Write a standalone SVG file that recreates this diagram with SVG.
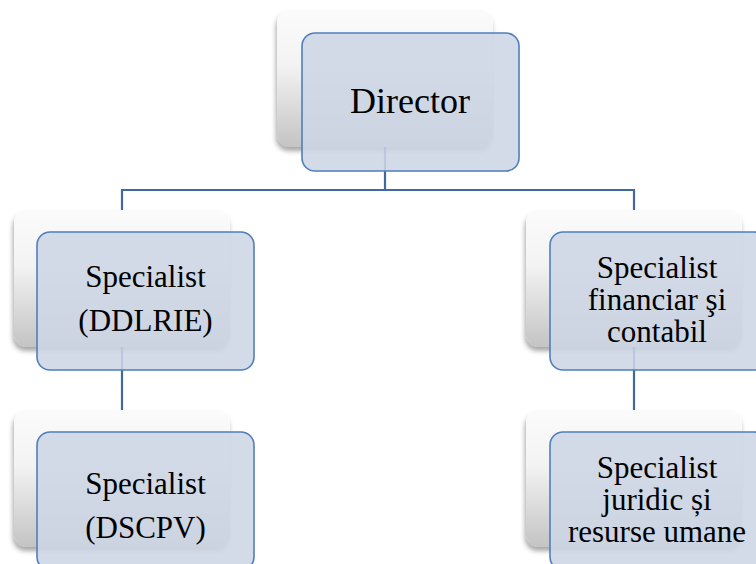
<svg xmlns="http://www.w3.org/2000/svg" width="756" height="564" viewBox="0 0 756 564">
<defs>
<linearGradient id="backGrad" x1="0" y1="0" x2="0" y2="1">
<stop offset="0" stop-color="#fbfbfb"/>
<stop offset="0.4" stop-color="#f3f3f3"/>
<stop offset="1" stop-color="#c4c4c4"/>
</linearGradient>
<filter id="shadow" x="-10%" y="-10%" width="125%" height="130%">
<feGaussianBlur in="SourceAlpha" stdDeviation="2.5"/>
<feOffset dx="-1" dy="4" result="b"/>
<feComponentTransfer><feFuncA type="linear" slope="0.35"/></feComponentTransfer>
<feMerge><feMergeNode/><feMergeNode in="SourceGraphic"/></feMerge>
</filter>
<rect id="backBox" width="216" height="137" rx="13" fill="url(#backGrad)" filter="url(#shadow)"/>
<rect id="frontBox" width="217" height="138" rx="13" fill="#cdd6e6" fill-opacity="0.88" stroke="#4f7fba" stroke-width="1.6"/>
</defs>
<rect width="756" height="564" fill="#ffffff"/>
<g id="connectors" fill="none" stroke="#41699f" stroke-width="2.2">
<path d="M385,100 V190 M122,190 H634 M122,189 V230 M634,189 V230 M122,300 V430 M634,300 V430"/>
</g>
<g id="director">
<use href="#backBox" x="277" y="10"/>
<use href="#frontBox" x="302" y="33"/>
<text x="410" y="113" font-family="Liberation Serif" font-size="36" text-anchor="middle" fill="#000">Director</text>
</g>
<g id="spec-ddlrie">
<use href="#backBox" x="14" y="210"/>
<use href="#frontBox" x="37" y="232"/>
<text x="145.5" y="287" font-family="Liberation Serif" font-size="31" text-anchor="middle">Specialist</text>
<text x="145.5" y="331" font-family="Liberation Serif" font-size="31" text-anchor="middle">(DDLRIE)</text>
</g>
<g id="spec-dscpv">
<use href="#backBox" x="14" y="410"/>
<use href="#frontBox" x="37" y="432"/>
<text x="145.5" y="494" font-family="Liberation Serif" font-size="31" text-anchor="middle">Specialist</text>
<text x="145.5" y="538" font-family="Liberation Serif" font-size="31" text-anchor="middle">(DSCPV)</text>
</g>
<g id="spec-financiar">
<use href="#backBox" x="526" y="210"/>
<use href="#frontBox" x="550" y="232"/>
<text x="657" y="278" font-family="Liberation Serif" font-size="31" text-anchor="middle">Specialist</text>
<text x="657" y="310" font-family="Liberation Serif" font-size="31" text-anchor="middle">financiar &#351;i</text>
<text x="657" y="342" font-family="Liberation Serif" font-size="31" text-anchor="middle">contabil</text>
</g>
<g id="spec-juridic">
<use href="#backBox" x="526" y="410"/>
<use href="#frontBox" x="550" y="432"/>
<text x="657" y="478" font-family="Liberation Serif" font-size="31" text-anchor="middle">Specialist</text>
<text x="657" y="510" font-family="Liberation Serif" font-size="31" text-anchor="middle">juridic &#537;i</text>
<text x="657" y="542" font-family="Liberation Serif" font-size="31" text-anchor="middle">resurse umane</text>
</g>
</svg>
